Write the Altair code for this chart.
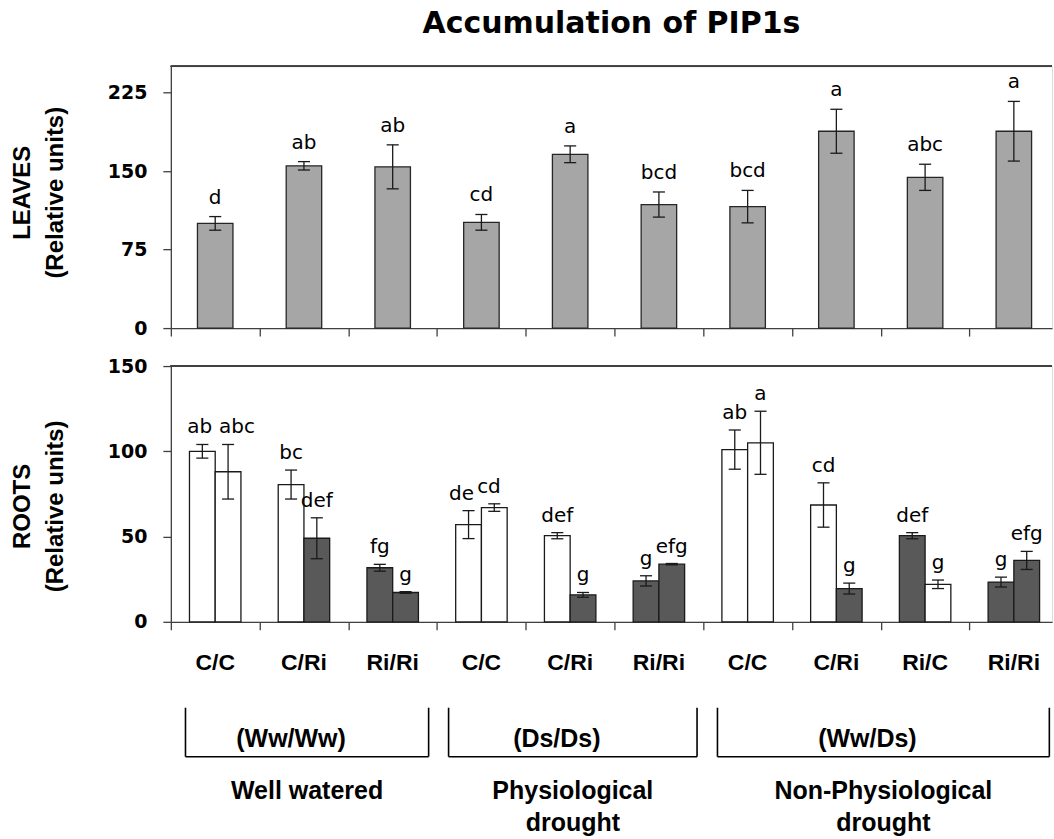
import altair as alt
import pandas as pd

# ---------------- data ----------------
cats = ["C/C", "C/Ri", "Ri/Ri", "C/C", "C/Ri", "Ri/Ri", "C/C", "C/Ri", "Ri/C", "Ri/Ri"]

leaf_mean = [100, 155, 154, 101, 166, 118, 116, 188, 144, 188]
leaf_err = [6.5, 4, 21, 7.5, 8, 12, 15.5, 21, 12.5, 28.5]
leaf_letters = ["d", "ab", "ab", "cd", "a", "bcd", "bcd", "a", "abc", "a"]

root_mean_1 = [100, 80.5, 31.7, 57, 50.5, 24, 101, 68.5, 50.5, 23.3]
root_err_1 = [4, 8.5, 2, 8.2, 1.8, 3, 11.5, 13, 1.8, 2.9]
root_fill_1 = ["white", "white", "dark", "white", "white", "dark", "white", "white", "dark", "dark"]
root_letters_1 = ["ab", "bc", "fg", "de", "def", "g", "ab", "cd", "def", "g"]

root_mean_2 = [88, 49, 17.2, 67, 15.8, 33.8, 105, 19.5, 22, 36]
root_err_2 = [16, 12, 0.5, 2.2, 1.4, 0.4, 18.5, 3.2, 2.5, 5.3]
root_fill_2 = ["white", "dark", "dark", "white", "dark", "dark", "white", "dark", "white", "dark"]
root_letters_2 = ["abc", "def", "g", "cd", "g", "efg", "a", "g", "g", "efg"]

group_labels = ["(Ww/Ww)", "(Ds/Ds)", "(Ww/Ds)"]
group_names = ["Well watered", "Physiological\ndrought", "Non-Physiological\ndrought"]
group_start = [0.165, 3.13, 6.16]
group_end = [2.905, 5.93, 9.9]

# ---------------- layout constants ----------------
W = 882
H_TOP = 262
H_BOT = 256
XMAX = 9.93
CAP = 0.068
AX = "#404040"
LETTER_FONT = "DejaVu Sans"
NUM_FONT = "DejaVu Sans"
ARIAL = "Liberation Sans"
# small horizontal nudges (x units) of a few crowded letter labels: (category, bar) -> shift
LETTER_NUDGE = {(0, 0): -0.03, (0, 1): 0.1, (3, 0): -0.08, (3, 1): -0.06}

xscale = alt.Scale(domain=[0, XMAX], nice=False, zero=False)
xaxis = alt.Axis(values=list(range(10)), labels=False, title=None, grid=False,
                 ticks=True, tickSize=8, domain=True, domainColor=AX, tickColor=AX,
                 domainWidth=1.3, tickWidth=1.3)


def yaxis(vals, title, title_y):
    return alt.Axis(values=vals, grid=False, tickSize=8, labelPadding=16,
                    labelFont=NUM_FONT, labelFontSize=19, labelFontWeight="bold",
                    labelColor="black",
                    domainColor=AX, tickColor=AX, domainWidth=1.3, tickWidth=1.3,
                    title=title, titleFont=ARIAL,
                    titleFontSize=24, titleFontWeight="bold", titleColor="black",
                    titleAngle=270, titleAlign="center", titleBaseline="middle",
                    titleX=-148, titleY=title_y, titleLineHeight=33)


# ---------------- top panel (leaves) ----------------
top = pd.DataFrame({
    "cat": cats,
    "mean": leaf_mean,
    "err": leaf_err,
    "letter": leaf_letters,
})
top["i"] = range(len(cats))
top["x0"] = top["i"] + 0.3
top["x1"] = top["i"] + 0.7
top["xc"] = top["i"] + 0.5
top["c0"] = top["xc"] - CAP
top["c1"] = top["xc"] + CAP
top["lo"] = top["mean"] - top["err"]
top["hi"] = top["mean"] + top["err"]

yscale_top = alt.Scale(domain=[0, 250], nice=False)

tb = alt.Chart(top).mark_bar(fill="#a6a6a6", stroke="#262626", strokeWidth=1.3).encode(
    x=alt.X("x0:Q", scale=xscale, axis=xaxis),
    x2="x1:Q",
    y=alt.Y("mean:Q", scale=yscale_top,
            axis=yaxis([0, 75, 150, 225], ["LEAVES", "(Relative units)"], 126)),
    y2=alt.datum(0),
)
terr = alt.Chart(top).mark_rule(color="#1a1a1a", strokeWidth=1.3).encode(
    x="xc:Q", y="lo:Q", y2="hi:Q")
tcap_hi = alt.Chart(top).mark_rule(color="#1a1a1a", strokeWidth=1.3).encode(
    x="c0:Q", x2="c1:Q", y="hi:Q")
tcap_lo = alt.Chart(top).mark_rule(color="#1a1a1a", strokeWidth=1.3).encode(
    x="c0:Q", x2="c1:Q", y="lo:Q")
tlet = alt.Chart(top).mark_text(font=LETTER_FONT, fontSize=20, baseline="alphabetic", dy=-13,
                                color="black").encode(x="xc:Q", y="hi:Q", text="letter:N")
tborder = alt.Chart(top).mark_rule(color=AX, strokeWidth=1.3).encode(
    y=alt.datum(250), x=alt.value(0), x2=alt.value(W))

top_chart = alt.layer(tb, terr, tcap_hi, tcap_lo, tlet, tborder).properties(
    width=W, height=H_TOP,
    title=alt.TitleParams(text="Accumulation of PIP1s", font=NUM_FONT, fontSize=30,
                          fontWeight="bold", anchor="middle", frame="group",
                          offset=27, color="black"),
)

# ---------------- bottom panel (roots) ----------------
rows = []
for i in range(len(cats)):
    for j, (m, e, f, l) in enumerate([
        (root_mean_1[i], root_err_1[i], root_fill_1[i], root_letters_1[i]),
        (root_mean_2[i], root_err_2[i], root_fill_2[i], root_letters_2[i]),
    ]):
        x0 = i + 0.21 + j * 0.29
        rows.append({"i": i, "x0": x0, "x1": x0 + 0.29, "xc": x0 + 0.145,
                     "xl": x0 + 0.145 + LETTER_NUDGE.get((i, j), 0.0),
                     "mean": m, "err": e, "fill": f, "letter": l})
bot = pd.DataFrame(rows)
bot["c0"] = bot["xc"] - CAP
bot["c1"] = bot["xc"] + CAP
bot["lo"] = bot["mean"] - bot["err"]
bot["hi"] = bot["mean"] + bot["err"]

yscale_bot = alt.Scale(domain=[0, 150], nice=False)

bb = alt.Chart(bot).mark_bar(stroke="#1a1a1a", strokeWidth=1.3).encode(
    x=alt.X("x0:Q", scale=xscale, axis=xaxis),
    x2="x1:Q",
    y=alt.Y("mean:Q", scale=yscale_bot,
            axis=yaxis([0, 50, 100, 150], ["ROOTS", "(Relative units)"], 140)),
    y2=alt.datum(0),
    fill=alt.Fill("fill:N", scale=alt.Scale(domain=["white", "dark"],
                                            range=["#ffffff", "#595959"]), legend=None),
)
berr = alt.Chart(bot).mark_rule(color="#1a1a1a", strokeWidth=1.3).encode(
    x="xc:Q", y="lo:Q", y2="hi:Q")
bcap_hi = alt.Chart(bot).mark_rule(color="#1a1a1a", strokeWidth=1.3).encode(
    x="c0:Q", x2="c1:Q", y="hi:Q")
bcap_lo = alt.Chart(bot).mark_rule(color="#1a1a1a", strokeWidth=1.3).encode(
    x="c0:Q", x2="c1:Q", y="lo:Q")
blet = alt.Chart(bot).mark_text(font=LETTER_FONT, fontSize=20, baseline="alphabetic", dy=-11,
                                color="black").encode(x="xl:Q", y="hi:Q", text="letter:N")
bborder = alt.Chart(bot).mark_rule(color=AX, strokeWidth=1.3).encode(
    y=alt.datum(150), x=alt.value(0), x2=alt.value(W))

catdf = pd.DataFrame({"cat": cats})
catdf["xc"] = [i + 0.5 for i in range(len(cats))]
clab = alt.Chart(catdf).mark_text(font=ARIAL, fontSize=23, fontWeight="bold",
                                  baseline="middle", color="black").encode(
    x="xc:Q", y=alt.value(H_BOT + 41), text="cat:N")

gdf = pd.DataFrame({"label": group_labels, "name": group_names,
                    "start": group_start, "end": group_end})
gdf["mid"] = (gdf["start"] + gdf["end"]) / 2
BR_TOP = 342
BR_BOT = 391
gl = alt.Chart(gdf).mark_rule(color="black", strokeWidth=1.6).encode(
    x="start:Q", y=alt.value(BR_TOP), y2=alt.value(BR_BOT))
gr = alt.Chart(gdf).mark_rule(color="black", strokeWidth=1.6).encode(
    x="end:Q", y=alt.value(BR_TOP), y2=alt.value(BR_BOT))
gh = alt.Chart(gdf).mark_rule(color="black", strokeWidth=1.6).encode(
    x="start:Q", x2="end:Q", y=alt.value(BR_BOT))
gt = alt.Chart(gdf).mark_text(font=ARIAL, fontSize=25, fontWeight="bold", dx=-16,
                              baseline="middle", color="black").encode(
    x="mid:Q", y=alt.value(373), text="label:N")
gn = alt.Chart(gdf).mark_text(font=ARIAL, fontSize=25, fontWeight="bold",
                              baseline="middle", color="black", lineBreak="\n",
                              lineHeight=32).encode(
    x="mid:Q", y=alt.value(425), text="name:N")

bot_chart = alt.layer(bb, berr, bcap_hi, bcap_lo, blet, bborder, clab,
                      gl, gr, gh, gt, gn).properties(width=W, height=H_BOT)

chart = alt.vconcat(top_chart, bot_chart, spacing=17).properties(
    padding={"left": 10, "top": 7, "right": 0, "bottom": 0}
).configure_view(stroke=None).configure(background="white")

chart.save("out.html", embed_options={"renderer": "svg", "actions": False})
